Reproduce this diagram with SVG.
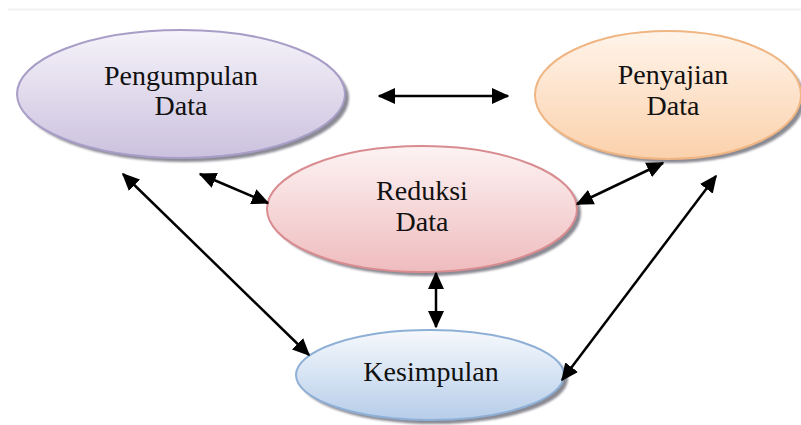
<svg xmlns="http://www.w3.org/2000/svg" width="801" height="425" viewBox="0 0 801 425">
  <defs>
    <style>
      .label { font-family: "Liberation Serif", "DejaVu Serif", serif; font-size: 28px; fill: #111; text-anchor: middle; }
      .conn { stroke: #000; stroke-width: 2.5; fill: none; marker-start: url(#head); marker-end: url(#head); }
      .shadow { fill: #6e6e7a; opacity: 0.8; filter: url(#soft); }
    </style>
    <filter id="soft" x="-10%" y="-10%" width="120%" height="130%">
      <feGaussianBlur stdDeviation="1.3"/>
    </filter>
    <linearGradient id="gPurple" x1="0" y1="0" x2="0" y2="1">
      <stop offset="0" stop-color="#f6f3fa"/>
      <stop offset="1" stop-color="#cbc1de"/>
    </linearGradient>
    <linearGradient id="gOrange" x1="0" y1="0" x2="0" y2="1">
      <stop offset="0" stop-color="#fff4ea"/>
      <stop offset="1" stop-color="#fbd1ac"/>
    </linearGradient>
    <linearGradient id="gRed" x1="0" y1="0" x2="0" y2="1">
      <stop offset="0" stop-color="#fdf3f3"/>
      <stop offset="1" stop-color="#efbcbe"/>
    </linearGradient>
    <linearGradient id="gBlue" x1="0" y1="0" x2="0" y2="1">
      <stop offset="0" stop-color="#f6f9fd"/>
      <stop offset="1" stop-color="#b6cde9"/>
    </linearGradient>
    <marker id="head" viewBox="0 0 12 11" refX="11" refY="5.5" markerWidth="7" markerHeight="6.5" markerUnits="strokeWidth" orient="auto-start-reverse">
      <path d="M0,0 L12,5.5 L0,11 Z" fill="#000"/>
    </marker>
  </defs>

  <rect width="801" height="425" fill="#fff"/>
  <line x1="8" y1="9.5" x2="801" y2="9.5" stroke="#f2f2f2" stroke-width="2"/>

  <g id="pengumpulan">
    <ellipse class="shadow" cx="185" cy="98" rx="164" ry="64"/>
    <ellipse cx="181" cy="94" rx="164" ry="64" fill="url(#gPurple)" stroke="#a79dc6" stroke-width="2"/>
    <text class="label" x="181" y="85">Pengumpulan</text>
    <text class="label" x="181" y="115">Data</text>
  </g>

  <g id="penyajian">
    <ellipse class="shadow" cx="672" cy="99" rx="133" ry="64"/>
    <ellipse cx="668" cy="95" rx="133" ry="64" fill="url(#gOrange)" stroke="#efb582" stroke-width="2"/>
    <text class="label" x="673" y="84">Penyajian</text>
    <text class="label" x="673" y="115">Data</text>
  </g>

  <g id="reduksi">
    <ellipse class="shadow" cx="426" cy="213" rx="155" ry="63"/>
    <ellipse cx="422" cy="209" rx="155" ry="63" fill="url(#gRed)" stroke="#d98c90" stroke-width="2"/>
    <text class="label" x="422" y="200">Reduksi</text>
    <text class="label" x="422" y="231">Data</text>
  </g>

  <g id="kesimpulan">
    <ellipse class="shadow" cx="434" cy="379" rx="134" ry="45"/>
    <ellipse cx="430" cy="375" rx="134" ry="45" fill="url(#gBlue)" stroke="#8fb0d6" stroke-width="2"/>
    <text class="label" x="431" y="381">Kesimpulan</text>
  </g>

  <g id="connectors">
    <line class="conn" x1="379" y1="96" x2="508" y2="96"/>
    <line class="conn" x1="123" y1="174" x2="309" y2="355"/>
    <line class="conn" x1="200" y1="174" x2="268" y2="203"/>
    <line class="conn" x1="577" y1="204" x2="663" y2="163"/>
    <line class="conn" x1="716" y1="176" x2="562" y2="380"/>
    <line class="conn" x1="436" y1="273" x2="436" y2="327"/>
  </g>
</svg>
